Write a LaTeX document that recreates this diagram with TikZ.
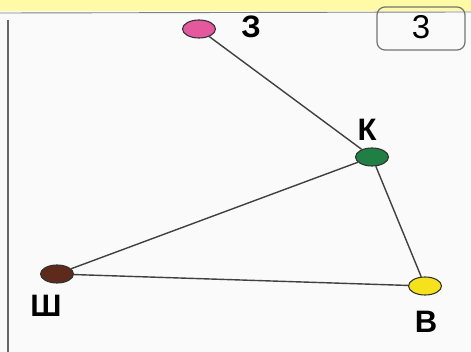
\documentclass[tikz,border=0pt]{standalone}
\usepackage{fontspec}
\setmainfont{Liberation Sans}
\usetikzlibrary{shapes.geometric}
\definecolor{pinkdot}{HTML}{E4589E}
\definecolor{greendot}{HTML}{1F7F45}
\definecolor{browndot}{HTML}{5E2A1C}
\definecolor{yellowdot}{HTML}{F5E21C}
\begin{document}
\begin{tikzpicture}[x=1pt,y=-1pt,
  dot/.style={ellipse,draw=black!80,line width=1.1pt,minimum width=33pt,minimum height=18pt,inner sep=0pt},
  lbl/.style={font=\fontsize{31}{31}\selectfont\bfseries,inner sep=0pt},
  edge/.style={draw=black!75,line width=1.4pt}]
\useasboundingbox (0,0) rectangle (471,352);
\fill[white!96!gray] (0,0) rectangle (471,352);
\fill[yellow!35!white] (0,0) rectangle (471,11);
\draw[black!50,line width=0.9pt] (0,13) -- (471,12);
\draw[black!60,line width=1.4pt] (8,20) -- (8,352);
\draw[black!55,line width=1.2pt,rounded corners=8pt] (377,7) rectangle (465,50);
\node[font=\fontsize{33}{33}\selectfont,inner sep=0pt] (num) at (421,27) {3};
\node[dot,fill=pinkdot] (z) at (199,29) {};
\node[dot,fill=greendot] (k) at (372,157) {};
\node[dot,fill=browndot] (sh) at (57,274) {};
\node[dot,fill=yellowdot] (v) at (425,286) {};
\node[lbl] (lz) at (251,27) {З};
\node[lbl] (lk) at (367,130) {К};
\node[lbl] (lsh) at (46,306) {Ш};
\node[lbl] (lv) at (426,322) {В};
\draw[edge] (z) -- (k);
\draw[edge] (k) -- (sh);
\draw[edge] (sh) -- (v);
\draw[edge] (k) -- (v);
\end{tikzpicture}
\end{document}
